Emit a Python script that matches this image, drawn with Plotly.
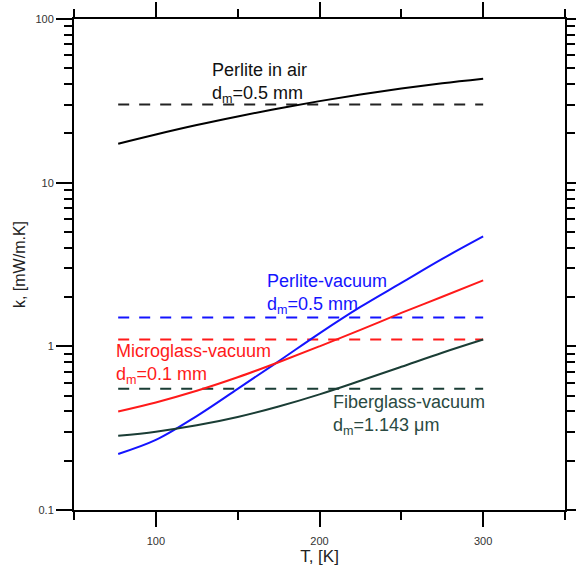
import math
import plotly.graph_objects as go

# Temperature grid (K) shared by the conductivity curves
T_grid = [77, 100, 125, 150, 175, 200, 225, 250, 275, 300]

# Thermal conductivity k (mW/m.K) of each insulation vs temperature
k_perlite_air = [17.3, 19.7, 22.5, 25.4, 28.4, 31.5, 34.6, 37.6, 40.5, 43.2]
k_perlite_vac = [0.22, 0.268, 0.375, 0.55, 0.81, 1.20, 1.74, 2.44, 3.42, 4.69]
k_microglass = [0.40, 0.454, 0.535, 0.647, 0.80, 1.0, 1.26, 1.60, 2.01, 2.53]
k_fiberglass = [0.284, 0.301, 0.329, 0.370, 0.429, 0.509, 0.616, 0.750, 0.914, 1.10]

# Reference (constant) conductivities shown as dashed lines
T_ref = [77, 300]
k_ref_perlite_air = 30.0
k_ref_perlite_vac = 1.5
k_ref_microglass = 1.1
k_ref_fiberglass = 0.55

x_ticks = [100, 200, 300]
y_ticks = [0.1, 1, 10, 100]
y_tick_text = ["0.1", "1", "10", "100"]

FONT = "Liberation Sans, Arial, sans-serif"
BLACK = "#000000"
BLUE = "#1414ff"
RED = "#ff1a1a"
GREEN = "#1a3d35"
DASH = "11px,10px"

fig = go.Figure()


def solid(T, k, color):
    fig.add_trace(go.Scatter(x=T, y=k, mode="lines",
                             line=dict(color=color, width=2, shape="spline", smoothing=1.0),
                             showlegend=False, hoverinfo="skip"))


def dashed(k, color):
    fig.add_trace(go.Scatter(x=T_ref, y=[k, k], mode="lines",
                             line=dict(color=color, width=2, dash=DASH),
                             showlegend=False, hoverinfo="skip"))


dashed(k_ref_perlite_air, "#222222")
dashed(k_ref_perlite_vac, BLUE)
dashed(k_ref_microglass, RED)
dashed(k_ref_fiberglass, GREEN)

solid(T_grid, k_perlite_air, BLACK)
solid(T_grid, k_perlite_vac, BLUE)
solid(T_grid, k_microglass, RED)
solid(T_grid, k_fiberglass, GREEN)

# Curve labels: (text, T, k, colour); log axes take log10 positions for annotations
labels = [
    ("Perlite in air<br>d<sub>m</sub>=0.5 mm", 133.0, 40.5, "#111111"),
    ("Perlite-vacuum<br>d<sub>m</sub>=0.5 mm", 166.5, 2.08, BLUE),
    ("Microglass-vacuum<br>d<sub>m</sub>=0.1 mm", 74.5, 0.78, RED),
    ("Fiberglass-vacuum<br>d<sub>m</sub>=1.143 \u03bcm", 207.3, 0.381, "#2a4a42"),
]
for text, x, y, color in labels:
    fig.add_annotation(x=x, y=math.log10(y), xref="x", yref="y",
                       yanchor="middle", xanchor="left",
                       text=text, showarrow=False, align="left",
                       font=dict(size=18, color=color, family=FONT))

axis_common = dict(
    showline=True, linecolor="black", linewidth=2, mirror="ticks",
    ticks="outside", tickcolor="black", tickwidth=2,
    showgrid=False, zeroline=False, automargin=False,
    tickfont=dict(size=11, color="#333333", family=FONT),
)

fig.update_xaxes(
    range=[50, 350], tickvals=x_ticks, ticklen=15, ticklabelstandoff=5,
    minor=dict(ticks="outside", ticklen=8, tickwidth=2, tickcolor="black", dtick=50, tick0=0),
    title=dict(text="T, [K]", font=dict(size=17, color="#222222", family=FONT), standoff=6),
    **axis_common,
)
fig.update_yaxes(
    type="log", range=[-1, 2], tickvals=y_ticks, ticktext=y_tick_text, ticklen=16,
    minor=dict(ticks="outside", ticklen=8, tickwidth=2, tickcolor="black", dtick="D1"),
    title=dict(text="k, [mW/m.K]", font=dict(size=16, color="#222222", family=FONT), standoff=6),
    **axis_common,
)

fig.update_layout(
    width=576, height=566,
    margin=dict(l=74, r=11, t=19, b=56),
    paper_bgcolor="white", plot_bgcolor="white",
)

fig.write_html("out.html")
